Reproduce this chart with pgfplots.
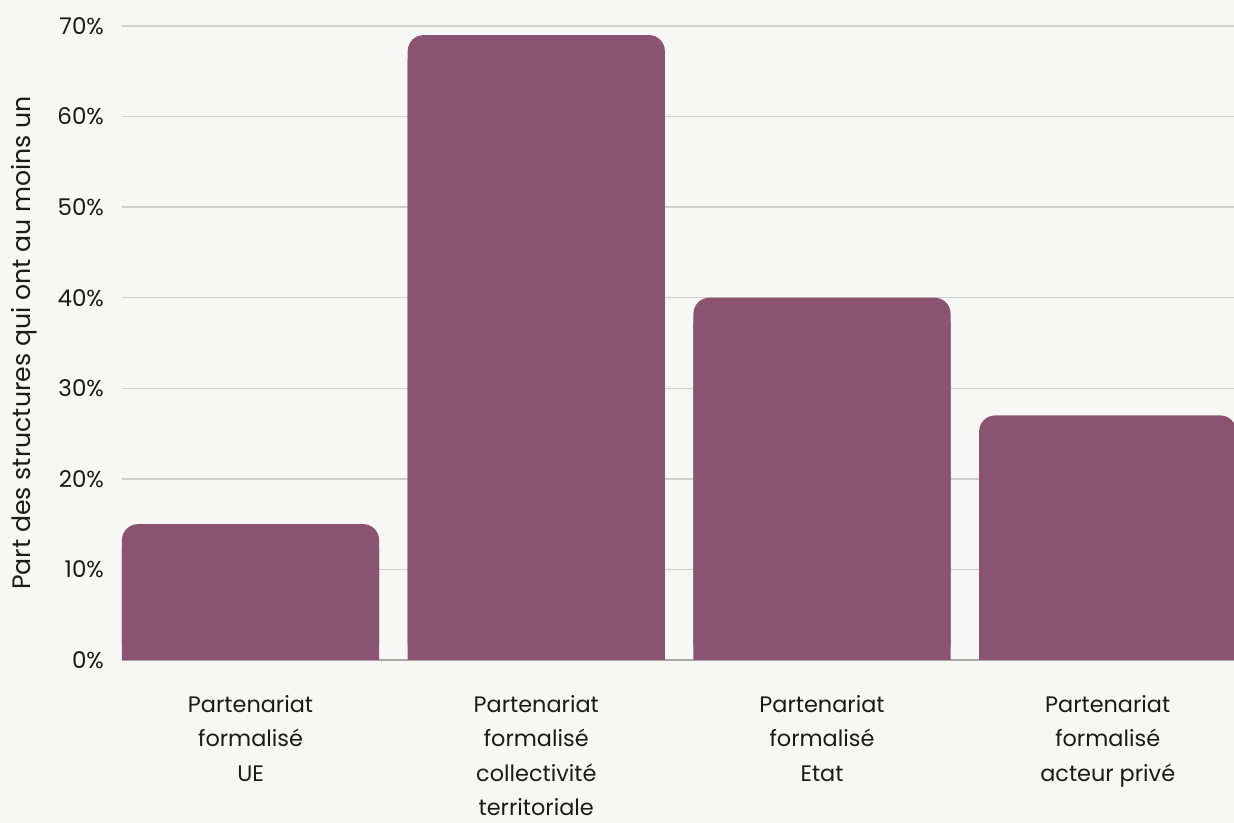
\documentclass[border=0pt]{standalone}
\usepackage{fontspec}
\setmainfont{Poppins}
\usepackage{pgfplots}
\pgfplotsset{compat=1.18}
\usepackage{pgfplotstable}
\usetikzlibrary{backgrounds}
\definecolor{bgc}{HTML}{F7F7F5}
\definecolor{barc}{HTML}{8A5372}
\definecolor{gridc}{HTML}{CFCFCF}
\definecolor{zeroc}{HTML}{A8A8A8}
\definecolor{txt}{HTML}{1A1A1A}

% share of structures with at least one formal partnership
\pgfplotstableread{
x y
0 15
1 69
2 40
3 27
}\parts

\begin{document}
\begin{tikzpicture}
\begin{axis}[
    name=ax,
    scale only axis,
    width=556pt, height=317pt,
    xmin=-0.45, xmax=3.442,
    ymin=0, ymax=70,
    ytick={0,10,...,70},
    yticklabel={\pgfmathprintnumber{\tick}\%},
    /pgf/number format/assume math mode=true,
    xtick=data,
    xticklabels={{Partenariat\\formalisé\\UE},
                 {Partenariat\\formalisé\\collectivité\\territoriale},
                 {Partenariat\\formalisé\\Etat},
                 {Partenariat\\formalisé\\acteur privé}},
    xticklabel style={align=center, anchor=north, yshift=-14.2pt,
        font=\fontsize{11.2}{17.2}\selectfont, text=txt},
    yticklabel style={anchor=east, xshift=-5.5pt,
        font=\fontsize{11.5}{14}\selectfont, text=txt},
    major tick length=0pt,
    axis line style={draw=none},
    ymajorgrids,
    grid style={gridc, line width=0.75pt},
    extra y ticks={0},
    extra y tick labels={},
    extra y tick style={grid=major, grid style={zeroc, line width=0.9pt}},
    ylabel={Part des structures qui ont au moins un},
    every axis y label/.style={at={(axis description cs:-0.088,0.5)},
        rotate=90, anchor=center,
        font=\fontsize{12.6}{15}\selectfont, text=txt},
]
% square lower part, shifted down so that only the bottom corners are covered
\addplot[ybar, bar width=0.9, fill=barc, draw=none, yshift=-12pt, forget plot]
    table[x=x, y=y]{\parts};
\addplot[ybar, bar width=0.9, fill=barc, draw=none, rounded corners=8pt]
    table[x=x, y=y]{\parts};
\end{axis}
\pgfresetboundingbox
\path[use as bounding box] ([xshift=-61pt,yshift=-81.5pt]ax.south west)
    rectangle ([yshift=13pt]ax.north east);
\begin{pgfonlayer}{background}
\fill[bgc] ([xshift=-61pt,yshift=-81.5pt]ax.south west)
    rectangle ([yshift=13pt]ax.north east);
\end{pgfonlayer}
\end{tikzpicture}
\end{document}
